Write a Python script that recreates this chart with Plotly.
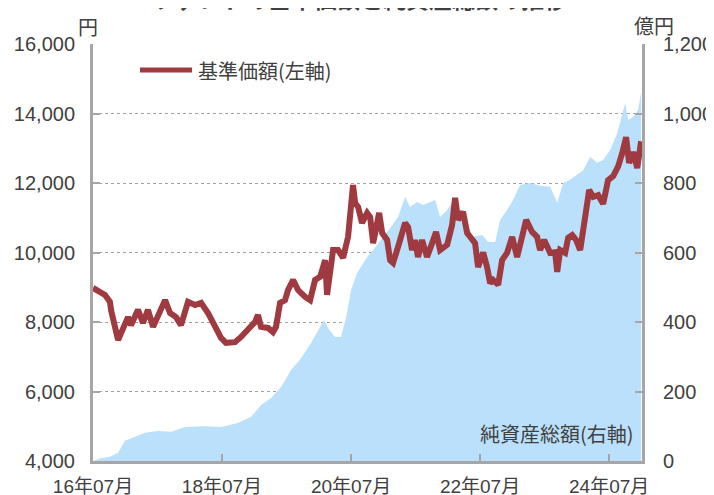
import plotly.graph_objects as go

# 基準価額（円） - left axis
nav_dates = [
    "2016-07-01", "2016-08-15", "2016-09-07", "2016-10-05", "2016-10-11", "2016-11-20",
    "2016-12-07", "2017-01-15", "2017-02-01", "2017-03-13", "2017-04-10", "2017-05-08",
    "2017-06-06", "2017-07-04", "2017-08-13", "2017-09-10", "2017-10-14", "2017-11-11",
    "2017-12-21", "2018-01-30", "2018-03-05", "2018-04-13", "2018-05-23", "2018-06-26",
    "2018-07-24", "2018-09-13", "2018-10-17", "2018-11-26", "2019-01-04", "2019-01-21",
    "2019-02-07", "2019-03-19", "2019-04-16", "2019-05-03", "2019-05-26", "2019-06-23",
    "2019-07-10", "2019-08-08", "2019-09-05", "2019-10-15", "2019-11-12", "2019-12-10",
    "2020-01-08", "2020-02-05", "2020-02-16", "2020-03-21", "2020-04-18", "2020-05-17",
    "2020-06-14", "2020-07-12", "2020-07-24", "2020-08-10", "2020-09-01", "2020-09-30",
    "2020-10-17", "2020-11-03", "2020-11-25", "2020-12-07", "2020-12-24", "2021-01-21",
    "2021-02-07", "2021-02-24", "2021-03-24", "2021-05-03", "2021-05-20", "2021-06-11",
    "2021-06-28", "2021-07-15", "2021-08-07", "2021-09-04", "2021-10-03", "2021-10-25",
    "2021-11-17", "2021-12-27", "2022-01-24", "2022-02-10", "2022-02-27", "2022-03-27",
    "2022-04-19", "2022-05-17", "2022-06-03", "2022-06-20", "2022-07-19", "2022-08-10",
    "2022-08-27", "2022-09-13", "2022-10-12", "2022-11-03", "2022-12-01", "2022-12-30",
    "2023-01-27", "2023-02-24", "2023-03-19", "2023-04-22", "2023-05-20", "2023-06-06",
    "2023-06-29", "2023-08-02", "2023-08-30", "2023-09-11", "2023-09-28", "2023-10-26",
    "2023-11-12", "2023-12-05", "2023-12-27", "2024-01-19", "2024-02-16", "2024-03-10",
    "2024-04-02", "2024-04-30", "2024-05-28", "2024-06-25", "2024-07-24", "2024-08-21",
    "2024-09-13", "2024-10-05", "2024-10-22", "2024-11-14", "2024-12-07", "2024-12-29",
]
nav_values = [
    8980, 8830, 8780, 8580, 8350, 7480,
    7710, 8140, 7910, 8350, 7970, 8350,
    7860, 8200, 8630, 8260, 8140, 7910,
    8580, 8490, 8550, 8260, 7910, 7540,
    7400, 7420, 7570, 7770, 8000, 8200,
    7860, 7830, 7710, 7860, 8550, 8630,
    8920, 9210, 8920, 8720, 8630, 9210,
    9300, 9780, 8780, 10070, 10070, 9850,
    10450, 11940, 11420, 11310, 10850, 11140,
    11020, 10270, 10850, 11140, 10560, 10360,
    9780, 9700, 10160, 10850, 10730, 10070,
    10360, 9870, 10360, 9870, 10270, 10590,
    10070, 10220, 10790, 11570, 10940, 11170,
    10560, 10360, 10270, 9580, 10000, 9580,
    9120, 9210, 9070, 9780, 9990, 10450,
    9870, 10450, 10940, 10590, 10450, 10070,
    10360, 9990, 10010, 9440, 10070, 9990,
    10420, 10500, 10360, 10070, 10940, 11800,
    11600, 11650, 11400, 12080, 12200, 12480,
    12860, 13320, 12580, 12890, 12430, 13200,
]

# 純資産総額（億円） - right axis
aum_dates = [
    "2016-07-01", "2016-08-15", "2016-10-05", "2016-11-20", "2016-12-29", "2017-02-24",
    "2017-04-21", "2017-07-04", "2017-09-16", "2017-12-04", "2018-03-27", "2018-06-26",
    "2018-09-30", "2018-12-13", "2019-02-07", "2019-04-05", "2019-06-01", "2019-07-27",
    "2019-09-22", "2019-11-18", "2019-12-27", "2020-01-30", "2020-02-22", "2020-04-01",
    "2020-05-05", "2020-06-03", "2020-07-01", "2020-08-04", "2020-09-30", "2020-11-03",
    "2020-12-29", "2021-02-07", "2021-03-24", "2021-05-03", "2021-05-31", "2021-07-10",
    "2021-08-13", "2021-09-21", "2021-10-20", "2021-11-17", "2021-12-27", "2022-02-10",
    "2022-03-10", "2022-04-19", "2022-05-23", "2022-07-13", "2022-08-16", "2022-09-25",
    "2022-10-23", "2022-12-01", "2023-01-04", "2023-02-13", "2023-04-11", "2023-06-06",
    "2023-08-02", "2023-09-11", "2023-10-15", "2023-11-23", "2024-01-02", "2024-02-05",
    "2024-03-16", "2024-04-24", "2024-05-28", "2024-07-07", "2024-08-16", "2024-09-13",
    "2024-09-30", "2024-10-17", "2024-11-14", "2024-12-12", "2024-12-29",
]
aum_values = [
    0, 8, 12, 24, 58, 70,
    81, 86, 84, 98, 100, 98,
    109, 127, 161, 181, 213, 262,
    296, 340, 377, 406, 383, 357,
    357, 414, 492, 541, 587, 607,
    645, 670, 702, 760, 731, 745,
    737, 745, 751, 702, 722, 760,
    714, 685, 645, 650, 630, 630,
    694, 722, 751, 794, 800, 792,
    789, 743, 800, 809, 823, 837,
    875, 858, 866, 895, 944, 1001,
    1030, 981, 990, 1010, 1062,
]

x_tick_vals = ["2016-07-01", "2018-07-01", "2020-07-01", "2022-07-01", "2024-07-01"]
x_tick_text = ["16年07月", "18年07月", "20年07月", "22年07月", "24年07月"]
left_ticks = [4000, 6000, 8000, 10000, 12000, 14000, 16000]
right_ticks = [0, 200, 400, 600, 800, 1000, 1200]

NAV_COLOR = "#9E3A40"
AREA_COLOR = "rgb(187,224,251)"
AXIS_COLOR = "#A6A6A6"
TEXT_COLOR = "#404040"
FONT = "Liberation Sans, Arial, Noto Sans CJK JP"
JFONT = "Noto Sans CJK JP"

fig = go.Figure()
fig.add_trace(go.Scatter(
    x=aum_dates, y=aum_values, yaxis="y", mode="lines",
    fill="tozeroy", fillcolor=AREA_COLOR, line=dict(width=0, color=AREA_COLOR),
    name="純資産総額（右軸）", showlegend=False,
))
fig.add_trace(go.Scatter(
    x=nav_dates, y=nav_values, yaxis="y2", mode="lines",
    line=dict(width=6, color=NAV_COLOR),
    name="基準価額（左軸）", showlegend=False,
))

fig.update_layout(
    width=714, height=495,
    margin=dict(l=85, r=80, t=36, b=42),
    paper_bgcolor="white", plot_bgcolor="white",
    font=dict(family=FONT, size=20, color=TEXT_COLOR),
    xaxis=dict(
        type="date", range=["2016-07-01", "2025-01-03"],
        tickvals=x_tick_vals, ticktext=x_tick_text,
        ticks="inside", ticklen=7, tickwidth=2, tickcolor=AXIS_COLOR,
        showline=True, linecolor=AXIS_COLOR, linewidth=3,
        showgrid=False, zeroline=False, ticklabelstandoff=6,
        tickfont=dict(size=19), automargin=False,
    ),
    yaxis=dict(
        side="right", range=[0, 1200], tickvals=right_ticks, tickformat=",",
        ticks="inside", ticklen=7, tickwidth=2, tickcolor=AXIS_COLOR,
        showline=True, linecolor=AXIS_COLOR, linewidth=3,
        showgrid=True, gridcolor="#A0A0A0", griddash="dot", gridwidth=1,
        zeroline=False, ticklabelstandoff=14, automargin=False,
    ),
    yaxis2=dict(
        overlaying="y", side="left", range=[4000, 16000], tickvals=left_ticks,
        tickformat=",", ticks="inside", ticklen=7, tickwidth=2, tickcolor=AXIS_COLOR,
        showline=True, linecolor=AXIS_COLOR, linewidth=3,
        showgrid=False, zeroline=False, ticklabelstandoff=11, automargin=False,
    ),
    showlegend=False,
)

# legend-like sample for the NAV line
fig.add_shape(type="line", xref="paper", yref="paper",
              x0=0.0856, x1=0.1803, y0=0.9376, y1=0.9376,
              line=dict(color=NAV_COLOR, width=5))
fig.add_annotation(text="基準価額(左軸)", xref="paper", yref="paper",
                   x=0.1876, y=0.9376, xanchor="left", yanchor="middle",
                   showarrow=False, font=dict(family=JFONT, size=20, color=TEXT_COLOR))
fig.add_annotation(text="純資産総額(右軸)", xref="paper", yref="paper",
                   x=0.989, y=0.067, xanchor="right", yanchor="middle",
                   showarrow=False, font=dict(family=JFONT, size=20, color=TEXT_COLOR))
# axis unit labels
fig.add_annotation(text="円", xref="paper", yref="paper",
                   x=-0.009, y=1.042, xanchor="center", yanchor="middle",
                   showarrow=False, font=dict(family=JFONT, size=20, color=TEXT_COLOR))
fig.add_annotation(text="億円", xref="paper", yref="paper",
                   x=1.022, y=1.045, xanchor="center", yanchor="middle",
                   showarrow=False, font=dict(family=JFONT, size=20, color=TEXT_COLOR))
# title (mostly cut off at the top of the picture)
fig.add_annotation(text="<b>ファンドの基準価額と純資産総額の推移</b>", xref="paper", yref="paper",
                   x=0.486, y=1.11, xanchor="center", yanchor="middle",
                   showarrow=False, font=dict(family=JFONT, size=23, color=TEXT_COLOR))

fig.write_html("out.html")
